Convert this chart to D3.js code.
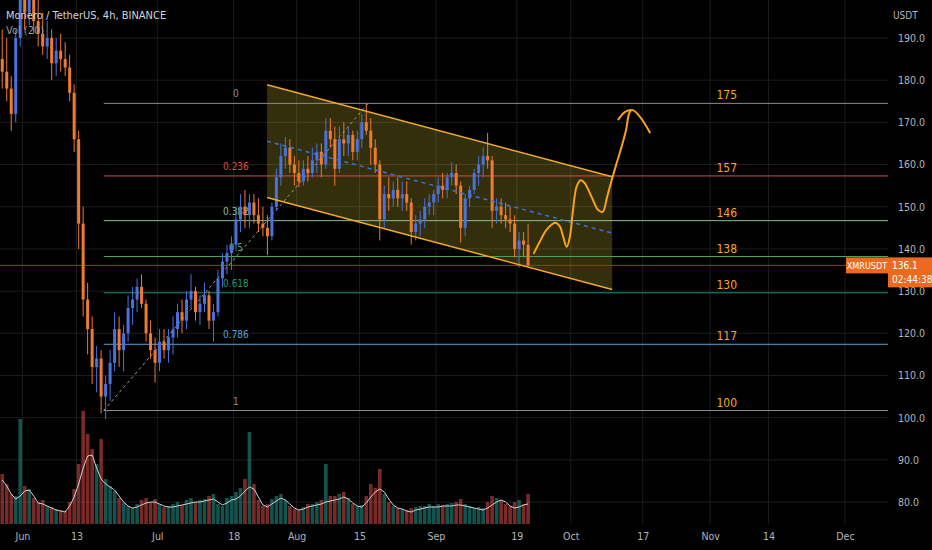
<!DOCTYPE html>
<html lang="en">
<head>
<meta charset="utf-8">
<script src="https://d3js.org/d3.v7.min.js"></script>
<style>
  body { margin: 0; background: #000; }
  svg { display: block; }
  text { font-family: 'DejaVu Sans', sans-serif; font-stretch: condensed; }
</style>
</head>
<body>
<script>
// daily candles XMR/USDT, first candle = 2022-05-27
const firstDay = "2022-05-27T00:00Z";
const openP = [185,182,178,172,190, 200,196,199,194,191, 188,190,184,187,185, 183,177,166,146,128,
  121,112,114,105,108, 113,121,116,120,126, 128,131,127,120,116, 113,118,116,119,121,
  125,123,128,130,125, 127,129,123,125,133, 137,139,141,147,150, 148,151,148,146,145,
  143,150,157,162,164, 160,158,156,159,158, 161,163,160,168,166, 159,166,165,167,163,
  166,170,168,164,160, 147,153,152,154,152, 153,151,144,146,147, 150,151,153,155,154,
  157,158,155,145,152, 154,158,160,162,161, 149,150,148,147,146, 140,142,141];
const highP = [192,190,181,192,203, 206,204,205,199,196, 194,192,190,191,189, 186,179,168,150,132,
  124,117,116,110,116, 125,124,122,129,131, 133,134,128,123,119, 121,121,121,124,127,
  128,130,134,131,129, 132,130,127,135,139, 141,143,150,153,154, 153,153,152,150,148,
  151,159,165,166.5,166, 162,161,161,162,164, 165,165,171,171,169, 169,170,169,168,168,
  172,174.5,171,166,161, 155,157,156,157,156, 156,152,148,149,152, 153,154,157,158,158,
  160.5,160,156,153,155, 159,162,164,167.5,162, 152,152,151,150,148, 144,144,146];
const lowP = [178,175,168,170,188, 192,193,191,188,186, 185,180,181,182,181, 175,163,140,124,115,
  108,106,101,99.7,104, 111,112,111,118,122, 125,126,118,114,108.3, 111,114,113,115,119,
  120,121,126,123,122, 125,121,118,124,131, 134,135,140,144,145, 145,146,144,143,138.5,
  142,149,155,159,158, 155,154.6,155,156,157, 158,157,159,164,155, 158,162,162,161,161,
  164,167,160,158,142, 145,149,150,150,149, 149,141,142,143,145, 148,148,151,152,152,
  155,153,141.5,143,150, 153,155,157,159,145, 146,146,145,144,138, 135.6,138,136];
const closeP = [182,178,172,190,200, 196,199,194,191,188, 190,184,187,185,183, 177,166,146,128,121,
  112,114,105,108,113, 121,116,120,126,128, 131,127,120,116,113, 118,116,119,121,125,
  123,128,130,125,127, 129,123,125,133,137, 139,141,147,150,148, 151,148,146,145,143,
  150,157,162,164,160, 158,156,159,158,161, 163,160,168,166,159, 166,165,167,163,166,
  170,168,164,160,147, 153,152,154,152,153, 151,144,146,147,150, 151,153,155,154,157,
  158,155,145,152,154, 158,160,162,161,149, 150,148,147,146,140, 142,141,136.1];
const volume = [50,40,30,28,105, 38,35,26,22,24, 18,17,15,14,13, 22,35,60,113,90,
  75,60,85,45,38, 33,26,22,18,16, 20,24,26,22,25, 20,17,18,20,22,
  19,24,26,22,24, 25,28,30,20,18, 26,28,32,36,45, 92,40,24,18,20,
  25,28,30,24,18, 15,14,17,20,20, 22,24,60,28,28, 30,32,26,20,18,
  19,28,40,36,55, 30,22,18,16,15, 14,16,17,18,18, 20,18,20,19,20,
  21,22,25,20,18, 16,17,16,22,28, 26,24,20,18,22, 24,20,30];
const volMA = [44,38,30,25,28, 33,34,28,21,20, 18,16,14,13,12, 18,27,40,56,68,
  69,56,45,40,37, 34,28,22,18,16, 17,19,21,22,22, 20,18,17,17,18,
  19,20,21,22,22, 23,24,25,22,19, 21,24,25,28,33, 37,35,27,19,17,
  20,23,26,24,20, 16,14,15,17,18, 19,20,22,23,24, 25,27,25,21,18,
  17,21,27,32,35, 32,25,19,16,15, 13,12,14,15,16, 17,17,17,18,18,
  18,19,19,18,17, 16,15,14,16,19, 22,24,22,18,16, 17,19,20];
const lastPrice = 136.1;

const priceTicks = [80,90,100,110,120,130,140,150,160,170,180,190];
const dateTicks = ["2022-06-01","2022-06-13","2022-07-01","2022-07-18","2022-08-01","2022-08-15",
  "2022-09-01","2022-09-19","2022-10-01","2022-10-17","2022-11-01","2022-11-14","2022-12-01"];
const dateLabels = ["Jun","13","Jul","18","Aug","15","Sep","19","Oct","17","Nov","14","Dec"];

// fib retracement
const fibRatios = ["0","0.236","0.382","0.5","0.618","0.786","1"];
const fibPrices = [174.5,157.3,146.7,138.2,129.6,117.4,101.7];
const fibColors = ["#8d8d8d","#e04a48","#8cbf8e","#4f9f58","#1f9373","#5da2d8","#8d8d8d"];
const fibNotes = ["175","157","146","138","130","117","100"];
const fibStart = "2022-06-19T02:00Z";
const fibHigh = "2022-08-16T22:00Z";
const fibLabelAt = "2022-07-18T12:00Z";
const noteAt = "2022-11-04T17:00Z";

// parallel channel
const chDates = ["2022-07-25T10:00Z","2022-10-10T05:00Z"];
const chUpper = [178.9,157.1];
const chLower = [152.2,130.4];

// projected path, days since Jun 1
const projDay = [113.8,115.1,116.6,118.5,119.6,120.3,121.1,121.8,122.5,123.3,124.2,125.1,126.6,128.1,129.1,130.1,131.1,132.2,133.3,134.3,135.0,135.5];
const projPrice = [139.0,141.7,144.5,146.2,145.3,142.9,140.5,142.9,149.2,154.8,156.3,155.6,152.4,149.2,148.8,152.4,156.3,160.3,164.2,168.2,172.2,172.9];
const arrowDay = [132.6,134.1,135.8,137.4,139.6];
const arrowPrice = [170.7,172.5,172.9,171.3,167.6];

const W = 932, H = 550, R = 888, B = 524;
const upCol = "#4a72dc", dnCol = "#ee7b2e";

const svg = d3.select("body").append("svg")
  .attr("width", W).attr("height", H)
  .style("background", "#000");

const x = d3.scaleUtc()
  .domain([new Date("2022-05-27T00:00Z"), new Date("2022-12-10T14:00Z")])
  .range([0, R]);
const y = d3.scaleLinear().domain([74.8, 199]).range([B, 0]);
const vy = d3.scaleLinear().domain([0, 100]).range([B, B - 100]);

const start = new Date(firstDay);
const days = openP.map((d, i) => d3.utcHour.offset(d3.utcDay.offset(start, i), 12));
const jun1 = Date.UTC(2022, 5, 1);
const dayDate = d => new Date(jun1 + d * 864e5);

svg.append("clipPath").attr("id", "plot")
  .append("rect").attr("width", R).attr("height", B);
const plot = svg.append("g").attr("clip-path", "url(#plot)");

// grid
plot.selectAll(".hg").data(priceTicks).enter().append("line")
  .attr("x1", 0).attr("x2", R)
  .attr("y1", d => y(d)).attr("y2", d => y(d))
  .attr("stroke", "#1c1c1c");
plot.selectAll(".vg").data(dateTicks).enter().append("line")
  .attr("x1", d => x(new Date(d))).attr("x2", d => x(new Date(d)))
  .attr("y1", 0).attr("y2", B)
  .attr("stroke", "#1c1c1c");

// channel fill
const chPoly = [
  [x(new Date(chDates[0])), y(chUpper[0])],
  [x(new Date(chDates[1])), y(chUpper[1])],
  [x(new Date(chDates[1])), y(chLower[1])],
  [x(new Date(chDates[0])), y(chLower[0])]
];
plot.append("polygon")
  .attr("points", chPoly.map(p => p.join(",")).join(" "))
  .attr("fill", "rgba(255,235,59,0.2)");

// fib lines
plot.selectAll(".fib").data(fibPrices).enter().append("line")
  .attr("x1", x(new Date(fibStart))).attr("x2", R)
  .attr("y1", d => y(d)).attr("y2", d => y(d))
  .attr("stroke", (d, i) => fibColors[i]).attr("stroke-width", 1);

plot.selectAll(".fibl").data(fibPrices).enter().append("text")
  .attr("x", x(new Date(fibLabelAt)))
  .attr("y", d => y(d) - 6)
  .attr("text-anchor", "middle")
  .attr("font-size", "10px")
  .attr("fill", (d, i) => fibColors[i])
  .text((d, i) => fibRatios[i]);

plot.selectAll(".note").data(fibPrices).enter().append("text")
  .attr("x", x(new Date(noteAt)))
  .attr("y", d => y(d) - 4)
  .attr("text-anchor", "middle")
  .attr("font-size", "12px")
  .attr("fill", "#f5a623")
  .text((d, i) => fibNotes[i]);

// last price line
plot.append("line")
  .attr("x1", 0).attr("x2", R)
  .attr("y1", y(lastPrice)).attr("y2", y(lastPrice))
  .attr("stroke", "#9a3d17");

// fib trend line
plot.append("line")
  .attr("x1", x(new Date(fibStart))).attr("y1", y(fibPrices[6]))
  .attr("x2", x(new Date(fibHigh))).attr("y2", y(fibPrices[0]))
  .attr("stroke", "#9a9a9a").attr("stroke-dasharray", "3,3");

// volume
plot.selectAll(".vol").data(volume).enter().append("rect")
  .attr("x", (d, i) => x(days[i]) - 1.8)
  .attr("width", 3.6)
  .attr("y", d => vy(d))
  .attr("height", d => B - vy(d))
  .attr("fill", (d, i) => closeP[i] >= openP[i] ? "rgba(38,166,154,0.5)" : "rgba(239,83,80,0.5)");

plot.append("path")
  .datum(volMA)
  .attr("fill", "none")
  .attr("stroke", "#cfcfcf")
  .attr("stroke-width", 1)
  .attr("d", d3.line().x((d, i) => x(days[i])).y(d => vy(d)));

// candles
const candle = plot.selectAll(".c").data(openP).enter().append("g");
candle.append("line")
  .attr("x1", (d, i) => x(days[i])).attr("x2", (d, i) => x(days[i]))
  .attr("y1", (d, i) => y(highP[i])).attr("y2", (d, i) => y(lowP[i]))
  .attr("stroke", (d, i) => closeP[i] >= d ? upCol : dnCol);
candle.append("rect")
  .attr("x", (d, i) => x(days[i]) - 1.5)
  .attr("width", 3)
  .attr("y", (d, i) => y(Math.max(d, closeP[i])))
  .attr("height", (d, i) => Math.max(1, Math.abs(y(d) - y(closeP[i]))))
  .attr("fill", (d, i) => closeP[i] >= d ? upCol : dnCol);

// channel lines
[chUpper, chLower].forEach(function(c) {
  plot.append("line")
    .attr("x1", x(new Date(chDates[0]))).attr("y1", y(c[0]))
    .attr("x2", x(new Date(chDates[1]))).attr("y2", y(c[1]))
    .attr("stroke", "#f0a832").attr("stroke-width", 1.5);
});
plot.append("line")
  .attr("x1", x(new Date(chDates[0]))).attr("y1", y((chUpper[0] + chLower[0]) / 2))
  .attr("x2", x(new Date(chDates[1]))).attr("y2", y((chUpper[1] + chLower[1]) / 2))
  .attr("stroke", "#3a72d8").attr("stroke-width", 1.5).attr("stroke-dasharray", "4,4");

// projection
const pline = d3.line().curve(d3.curveCatmullRom)
  .x(d => x(dayDate(d[0]))).y(d => y(d[1]));
plot.append("path")
  .datum(projDay.map((d, i) => [d, projPrice[i]]))
  .attr("fill", "none").attr("stroke", "#f7a11c").attr("stroke-width", 2)
  .attr("stroke-linecap", "round")
  .attr("d", pline);
plot.append("path")
  .datum(arrowDay.map((d, i) => [d, arrowPrice[i]]))
  .attr("fill", "none").attr("stroke", "#f7a11c").attr("stroke-width", 2)
  .attr("stroke-linecap", "round")
  .attr("d", pline);

// legend
svg.append("text").attr("x", 6).attr("y", 19)
  .attr("font-size", "11px").attr("fill", "#d1d4dc")
  .text("Monero / TetherUS, 4h, BINANCE");
svg.append("text").attr("x", 6).attr("y", 34)
  .attr("font-size", "11px").attr("fill", "#9598a1")
  .text("Vol (20)");

// price axis
const axisFont = "'DejaVu Sans', sans-serif";
const ya = svg.append("g").attr("transform", "translate(" + R + ",0)")
  .call(d3.axisRight(y).tickValues(priceTicks).tickFormat(d3.format(".1f")).tickSize(0).tickPadding(10));
ya.select(".domain").remove();
ya.selectAll("text").attr("fill", "#b2b5be").attr("font-size", "10.5px")
  .style("font-family", axisFont).style("font-stretch", "condensed");
svg.append("text").attr("x", 893).attr("y", 19)
  .attr("font-size", "10px").attr("fill", "#b2b5be").text("USDT");

// date axis
const xa = svg.append("g").attr("transform", "translate(0," + B + ")")
  .call(d3.axisBottom(x).tickValues(dateTicks.map(d => new Date(d + "T00:00Z")))
    .tickFormat((d, i) => dateLabels[i]).tickSize(0).tickPadding(9));
xa.select(".domain").remove();
xa.selectAll("text").attr("fill", "#b2b5be").attr("font-size", "10.5px")
  .style("font-family", axisFont).style("font-stretch", "condensed");

// last price tags
const py = y(lastPrice);
svg.append("rect").attr("x", 846).attr("y", py - 8).attr("width", 42).attr("height", 16)
  .attr("fill", "#ec6a1f");
svg.append("text").attr("x", 867).attr("y", py + 3.5).attr("text-anchor", "middle")
  .attr("font-size", "9px").attr("fill", "#fff").text("XMRUSDT");
svg.append("rect").attr("x", 888).attr("y", py - 8).attr("width", 44).attr("height", 30)
  .attr("fill", "#ec6a1f");
svg.append("text").attr("x", 892).attr("y", py + 4)
  .attr("font-size", "10px").attr("fill", "#fff").text(d3.format(".1f")(lastPrice));
svg.append("text").attr("x", 892).attr("y", py + 18)
  .attr("font-size", "10px").attr("fill", "#fff").text("02:44:38");
</script>
</body>
</html>
